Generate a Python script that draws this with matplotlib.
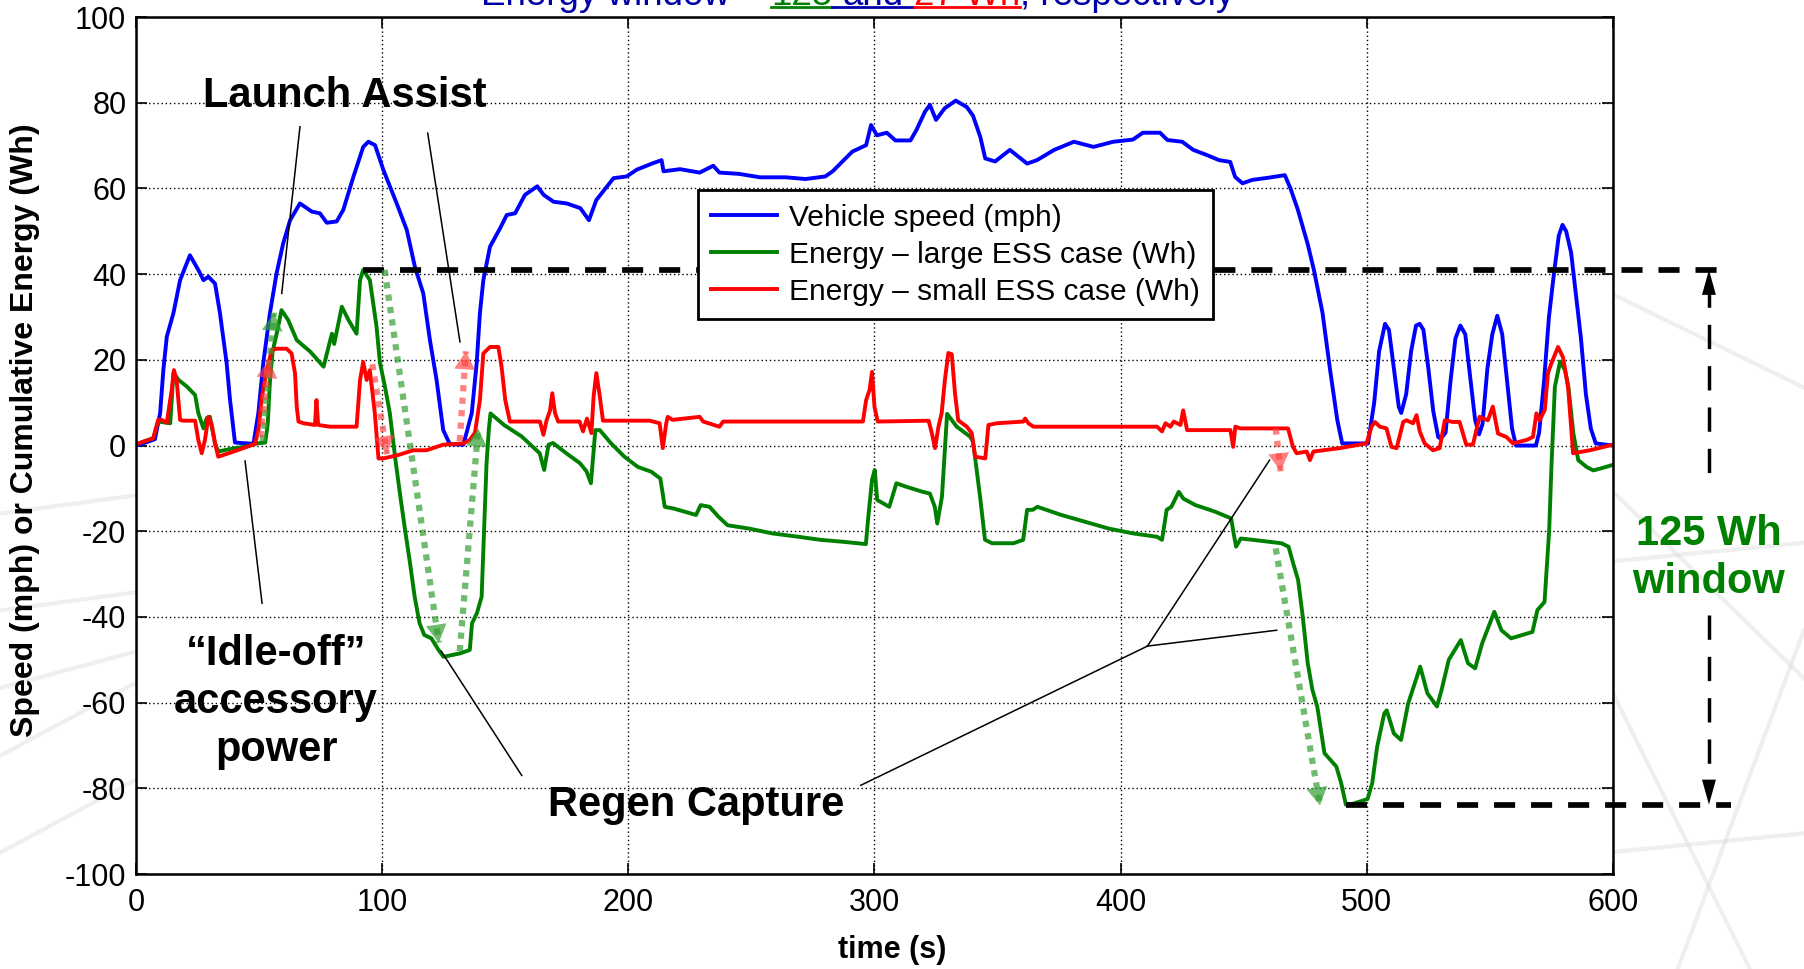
import matplotlib
matplotlib.use('Agg')
import matplotlib.pyplot as plt
from matplotlib.lines import Line2D
from matplotlib.transforms import IdentityTransform
import numpy as np

# ---- data ----
speed_t = [0, 2, 7.7, 9.8, 11.1, 12.5, 15.2, 17.9, 21.9, 25.3, 27.4, 29.4, 32.1, 34.1, 36.8, 38.2, 40.2,
           47.7, 49.7, 51.7, 54.4, 57.1, 59.8, 62.6, 66.6, 71.4, 74.7, 77.5, 81.5, 84.2, 88.3, 92.3, 94.4,
           97.1, 100.5, 105.9, 110, 113.3, 116.7, 119.4, 122.1, 124.8, 127.5, 133, 136.4, 138.4, 139.7,
           141.1, 143.8, 147.9, 150.6, 154, 158, 163, 165.6, 169.6, 175, 180.5, 184, 187, 194, 199.3,
           203.5, 210, 213.5, 214.3, 221, 229, 234.5, 237, 245, 253.5, 264, 272, 280, 283, 291, 296.6,
           298.6, 301, 305, 308.5, 314.6, 317, 320.5, 322.5, 325, 328.5, 333, 337.5, 340, 343, 345, 349,
           355, 362, 366, 373, 381, 389, 397, 405, 409, 416, 419, 425, 429.5, 435, 440, 444.5, 446.5,
           449.5, 453.5, 460, 466.7, 469, 472, 476, 478.5, 482, 485, 488, 490, 500.5, 503, 505, 507.4,
           509, 511, 513, 514, 516, 518, 520, 521.5, 523, 525, 527, 529, 530, 532, 534, 536, 538, 540,
           542, 544, 545.6, 547, 549, 551, 553, 555, 557, 559, 560.6, 568.7, 570, 572, 574, 576, 578,
           579.5, 581, 583, 585, 587, 589, 591, 593, 600]
speed_v = [0, 0.3, 1.5, 7.6, 17.6, 25.4, 30.9, 38.6, 44.4, 41, 38.6, 39.4, 37.8, 30.9, 19.3, 10.6, 0.7,
           0.4, 7.6, 19.3, 30.9, 40.2, 47.2, 52.6, 56.5, 54.6, 54.2, 52, 52.3, 55, 62.7, 69.7, 70.9,
           70.1, 64.3, 56.5, 50.3, 41.7, 35.5, 24.6, 15.3, 3.6, 0.3, 0.2, 7.6, 19.3, 30.9,
           38.6, 46.4, 50.7, 53.8, 54.2, 58.5, 60.5, 58.5, 56.9, 56.5, 55.4, 52.6, 57.3, 62.4, 62.8,
           64.4, 65.9, 66.6, 64, 64.5, 63.7, 65.3, 63.7, 63.4, 62.6, 62.6, 62.2, 62.8, 64, 68.6, 70.1,
           74.8, 72.4, 73, 71.2, 71.2, 73.6, 77.9, 79.5, 76, 78.7, 80.5, 79, 77, 72, 67, 66.3,
           69, 65.8, 66.6, 69, 70.9, 69.7, 70.9, 71.4, 73, 73, 71.3, 70.9, 69, 67.8, 66.6, 66.2, 62.7,
           61.2, 62, 62.5, 63.1, 60, 55, 47, 41, 31, 18, 6, 0.5, 0.5, 10, 22, 28.4,
           27, 18, 9, 7.6, 12, 22, 28, 28.4, 27, 18, 8, 2, 1.6, 3, 15, 25, 28, 26,
           16, 6, 2.6, 5, 18, 26, 30.3, 26, 15, 4, 0, 0, 3, 15, 30, 40, 49,
           51.5, 50, 45, 35, 25, 12, 4, 0.5, 0]

large_t = [0, 7, 9, 13.9, 15.2, 17.3, 20.6, 24, 25.3, 27.4, 28.7, 30, 32.1, 33.4, 38.2, 45, 49, 52.5,
           53.5, 54.4, 55.5, 57.1, 59.1, 61.8, 65.3, 70.8, 76.2, 78.9, 79.6, 80.5, 83.6, 86.3, 89.6, 91,
           92.3, 95, 97.7, 99.1, 101.1, 103.1, 105.4, 107.4, 109.3, 111.3, 113.2, 115.2, 117.1, 120,
           122.9, 124.9, 131.7, 135.6, 136.5, 138.5, 140.4, 141.4, 142.4, 143.3, 144, 149.5, 156.7, 164,
           165.8, 167.6, 169.4, 174.8, 180.3, 183, 184.8, 186.6, 188.4, 193, 198.4, 203.9, 209.3, 213,
           214.8, 218.4, 227.5, 229.4, 233, 236.6, 240.3, 249.3, 258.4, 269.2, 278, 288, 296.5, 297.5,
           299, 300.1, 301.1, 306, 308.9, 312.8, 319.6, 322.5, 324.5, 325.5, 327.4, 328.4, 329.5, 333.4,
           338.8, 340, 341, 342.9, 344.9, 347.8, 356.5, 360.4, 362, 364.3, 366.2, 375.9, 385.6, 395.3,
           405, 414.8, 416.8, 418.7, 420.6, 423.6, 425.5, 430.4, 438.2, 444.9, 445.9, 446.9, 448.8,
           453.6, 465.3, 468.2, 470.1, 472.1, 474, 476, 477.9, 479.9, 482.8, 487.6, 489.6, 491.5, 494.4,
           500.3, 502.2, 504.2, 507.1, 508.1, 511, 513.9, 516.8, 521.7, 524.6, 528.5, 530.4, 533.3,
           538.2, 541.1, 544, 546.9, 551.8, 554.7, 558.6, 567.3, 569.3, 572.2, 574.1, 575, 576.4, 578.5,
           580.5, 581.9, 583.9, 585.9, 589.3, 592, 594.7, 598.8, 600]
large_e = [0.3, 1.7, 5.6, 5.2, 16.9, 15.3, 13.8, 11.8, 7.6, 4, 6.4, 6.7, 0.5, -1.4, -0.8, -0.2, 0.5, 0.7,
           5, 15, 22, 26, 31.6, 29.3, 24.6, 21.9, 18.4, 24.6, 26.1, 23.7, 32.4, 29.3, 26.1, 38.6,
           41, 38.6, 27.8, 19.3, 13.8, 7.6, -3.4, -12, -19.7, -27.4, -35.3, -41.5, -44.2, -45,
           -47.7, -49.3, -48.5, -47.7, -41.5, -39.1, -35.3, -19.7, -4.2, 3.6, 7.5, 4.8, 2.1, -1.8,
           -5.7, 0.2, 0.6, -1.8, -4.1, -6, -8.8, 3.6, 3.6, 0.5, -2.6, -5, -6.1, -7.7,
           -14.3, -14.7, -16.2, -13.9, -14.3, -16.6, -18.6, -19.4, -20.5, -21.3, -22, -22.5, -23, -16.6,
           -8, -5.7, -12.7, -14.3, -8.8, -9.6, -10.8, -11.2, -14.3, -18.2, -12, -2.6, 7.4, 4.4,
           2.1, 1, -3.4, -12, -22, -22.8, -22.8, -22, -15, -15, -14.3, -16.2, -17.8, -19.4,
           -20.5, -21.3, -22, -15, -14.3, -10.8, -12.4, -13.9, -15.4, -17, -20.5, -23.6, -21.7,
           -22, -22.8, -23.6, -27.5, -31.4, -40, -50.8, -57, -61, -71.8, -74.9, -78.8, -83.8, -83.6,
           -82.5, -78.8, -70.3, -62.5, -61.8, -67.2, -68.7, -60.2, -51.6, -57.8, -60.9, -57, -50,
           -45.4, -50.8, -52, -46.1, -38.8, -43.1, -45, -43.5, -38.4, -36.5, -19.7, -5, 13.7, 19.6,
           17.6, 13.7, 2.9, -3.4, -5, -5.8, -5.4, -4.7, -4.5]

small_t = [0, 7, 9, 10.4, 12.5, 14.5, 15.4, 16.5, 17.9, 19.2, 24, 25.3, 26.7, 28, 29.4, 30.7, 32.1, 33.4,
           38.2, 43.6, 48.4, 49.7, 51.1, 53.1, 55.2, 57.1, 61.2, 63.2, 64.6, 65.3, 66, 68, 72.7, 73.3, 74,
           78.8, 89.6, 91, 92.3, 93.7, 95, 97, 98.5, 100.5, 106, 112.7, 118, 124.8, 133, 135.6, 137.7,
           139.7, 141.1, 143.8, 147.2, 148.5, 150, 151.9, 164.1, 165.5, 166.8, 168.2, 169.1, 170.2,
           171.5, 180.2, 181.6, 183.2, 185, 185.9, 187, 188.4, 189.7, 208.7, 212.7, 214, 215.4, 216,
           218, 229, 230.4, 237, 238.5, 295.3, 296.6, 298, 299, 300, 301.3, 322, 323.3, 324.6, 326,
           327.3, 328.6, 330, 331.4, 332.7, 334, 337.5, 339.5, 340.9, 345, 346.3, 349.7, 360.5, 361.2,
           362.5, 364.6, 414.8, 416.8, 418.2, 420.2, 421.6, 424.3, 425.4, 427, 444.6, 445.7, 446.6,
           448.7, 468, 470, 471.5, 475.6, 476.9, 478.3, 489, 499.9, 501.9, 503.3, 505.3, 508, 510,
           512.1, 514.8, 516.1, 518.8, 520.2, 521.5, 523.5, 526.9, 529.6, 531.7, 535, 537.7, 540.4,
           543.1, 545.8, 549.2, 551.2, 553.3, 556.7, 559.4, 564.9, 567.5, 568.9, 570.2, 572.3, 573.6,
           575, 577.7, 579.7, 581.8, 583.8, 590.6, 600]
small_e = [0.3, 1.7, 6, 6, 5.3, 13, 17.6, 15.3, 6, 5.8, 5.8, 1.3, -1.8, 1.3, 6.7, 5, 0.5, -2.6,
           -1.7, -0.6, 0.4, 3.6, 11.3, 17.6, 22.3, 22.6, 22.6, 21.5, 16.8, 9, 5.6, 5.2, 4.8, 10.6, 4.8,
           4.4, 4.4, 15.3, 19.5, 15.3, 17.6, 7.6, -3, -3, -2.3, -1.1, -1.1, 0.2, 0.5, 1.3, 3,
           10.6, 21.5, 23, 23, 18.4, 10.6, 5.6, 5.6, 2.5, 5.9, 8.2, 12.2, 7.6,
           5.6, 5.6, 3.3, 6.3, 2.9, 11.5, 16.9, 11.5, 5.8, 5.8, 5.2, -0.6, 5.2, 6.7,
           6, 6.7, 5.6, 4.4, 5.6, 5.6, 10.6, 13, 17.2, 9, 5.6, 5.8, 2.9, -0.6, 4.4,
           7.6, 15.3, 21.6, 21.3, 12.2, 5.9, 4.4, 2.9, -2.6, -3, 4.8, 5.2, 5.6, 6.3,
           5.2, 4.4, 4.4, 3.3, 5.2, 4.4, 5.6, 4.8, 8.2, 3.6, 3.6, -0.3, 4.4,
           4, 4, -0.3, -1.8, -1.4, -3.4, -1.4, -0.6, 0.5, 4.4, 5.5, 4.4, 4, -0.3,
           -0.6, 5.5, 5.9, 5.2, 7.1, 3.3, 0.5, -1.1, -0.6, 5.9, 5.5, 5.5, 0.2,
           0.2, 6.7, 5.9, 9.1, 2.8, 2, 0.5, 1.3, 2, 7.5, 5.9, 8.3, 16.9,
           19.2, 23, 20.6, 13.5, -1.8, -1.1, 0.2]

x_ticks = [0, 100, 200, 300, 400, 500, 600]
y_ticks = [-100, -80, -60, -40, -20, 0, 20, 40, 60, 80, 100]

plt.rcParams['font.family'] = ['Liberation Sans', 'DejaVu Sans']
plt.rcParams['axes.unicode_minus'] = False

fig = plt.figure(figsize=(18.04, 9.69), dpi=100)

# faint slide background streaks
for (x0, y0, x1, y1) in [(0, 0.37, 0.08, 0.39), (0, 0.29, 0.08, 0.33), (0, 0.22, 0.08, 0.30),
                         (0, 0.12, 0.08, 0.20), (0, 0.47, 0.08, 0.49),
                         (0.89, 0.70, 1.0, 0.60), (0.89, 0.50, 1.0, 0.30), (0.89, 0.42, 1.0, 0.44),
                         (0.89, 0.30, 0.97, 0.0), (0.89, 0.12, 1.0, 0.14), (0.93, 0.0, 1.0, 0.35)]:
    fig.add_artist(Line2D([x0, x1], [y0, y1], transform=fig.transFigure,
                          color='#d8d8d8', lw=3, alpha=0.4, zorder=-2))

ax = fig.add_axes([0.0754, 0.098, 0.8187, 0.8844])

ax.plot(speed_t, speed_v, color='#0000ff', lw=2.8, label='Vehicle speed (mph)')
ax.plot(large_t, large_e, color='#008000', lw=2.8, label='Energy – large ESS case (Wh)')
ax.plot(small_t, small_e, color='#ff0000', lw=2.8, label='Energy – small ESS case (Wh)')

ax.set_xlim(0, 600)
ax.set_ylim(-100, 100)
ax.set_xticks(x_ticks)
ax.set_yticks(y_ticks)
ax.grid(True, color='k', linestyle=(0, (1, 2)), lw=1.0)
ax.tick_params(direction='in', top=True, right=True, length=8, width=1.2, labelsize=22, pad=7)
ax.tick_params(axis='x', pad=10)
for sp in ax.spines.values():
    sp.set_linewidth(1.8)

ax.set_xlabel('time (s)', fontsize=22, fontweight='bold')
ax.xaxis.label.set_va('center')
ax.xaxis.set_label_coords(0.512, -0.089)
ax.set_ylabel('Speed (mph) or Cumulative Energy (Wh)', fontsize=23, fontweight='bold')
ax.yaxis.label.set_va('center')
ax.yaxis.set_label_coords(-0.075, 0.518)

leg = ax.legend(loc='upper left', bbox_to_anchor=(0.3805, 0.798), borderaxespad=0, fontsize=21.5,
                frameon=True, fancybox=False, edgecolor='k', framealpha=1, handlelength=2.2,
                handletextpad=0.4, labelspacing=0.3, borderpad=0.45)
leg.get_frame().set_linewidth(2)
leg.set_zorder(10)

# energy window lines
e_top = max(large_e)
e_bot = min(large_e)
t_top = large_t[large_e.index(e_top)]
t_bot = large_t[large_e.index(e_bot)]
ax.plot([t_top, 646], [e_top, e_top], color='k', lw=4.1, dashes=(3.7, 2.8), clip_on=False, zorder=4)
ax.plot([t_bot, 648], [e_bot, e_bot], color='k', lw=4.1, dashes=(3.7, 2.8), clip_on=False, zorder=4)

x_win = 639
ax.plot([x_win, x_win], [e_top - 3, -8.7], color='k', lw=2.5, dashes=(7, 4.9), clip_on=False)
ax.plot([x_win, x_win], [-39.6, e_bot + 3], color='k', lw=2.5, dashes=(7, 4.9), clip_on=False)
for tip, back in [(e_top, e_top - 6), (e_bot, e_bot + 6)]:
    ax.annotate('', xy=(x_win, tip), xytext=(x_win, back), annotation_clip=False,
                arrowprops=dict(arrowstyle='-|>,head_length=1.8,head_width=0.5', color='k',
                                lw=0, shrinkA=0, shrinkB=0))
ax.text(x_win, -26.3, '125 Wh\nwindow', color='#008000', fontsize=30, fontweight='bold',
        ha='center', va='center', linespacing=1.25, clip_on=False)


def dotted_arrow(x0, y0, x1, y1, color, alpha):
    ax.plot([x0, x1], [y0, y1], color=color, alpha=alpha, lw=4.5, linestyle=(0, (1, 1)),
            dash_capstyle='butt', zorder=6)
    ax.annotate('', xy=(x1, y1), xytext=(x1 - 0.1 * (x1 - x0), y1 - 0.1 * (y1 - y0)),
                arrowprops=dict(arrowstyle='-|>,head_length=1.3,head_width=0.75', color=color,
                                alpha=alpha, lw=0, shrinkA=0, shrinkB=0), zorder=6)


g_col, r_col = (0.2, 0.62, 0.2), (1.0, 0.25, 0.25)
dotted_arrow(101, 41, 123, -46, g_col, 0.7)
dotted_arrow(131.5, -48, 139, 4, g_col, 0.7)
dotted_arrow(51.5, 1, 56, 31, g_col, 0.7)
dotted_arrow(463, -24, 481, -84, g_col, 0.7)
dotted_arrow(50.5, 2, 54, 20, r_col, 0.65)
dotted_arrow(96, 19, 102, -2, r_col, 0.65)
dotted_arrow(131.5, 1, 134, 22, r_col, 0.65)
dotted_arrow(463, 4, 465, -6, r_col, 0.65)

# callouts
txt = dict(fontsize=30, fontweight='bold', ha='center', va='center', color='k')
ax.text(85, 81.6, 'Launch Assist', **txt)
ax.plot([66.6, 59.2], [74.4, 35.5], color='k', lw=1.1)
ax.plot([118.5, 131.6], [72.9, 24.2], color='k', lw=1.1)

ax.text(56.9, -59.9, '\u201cIdle-off\u201d\naccessory\npower', linespacing=1.25, **txt)
ax.plot([44.3, 51.2], [-3.6, -36.8], color='k', lw=1.1)

ax.text(227.5, -83.9, 'Regen Capture', **txt)
ax.plot([124, 156.7], [-48, -77], color='k', lw=1.1)
ax.plot([294.4, 410.9], [-79.3, -46.8], color='k', lw=1.1)
ax.plot([410.9, 463.4], [-46.8, -43.1], color='k', lw=1.1)
ax.plot([410.9, 460.5], [-46.8, -3.4], color='k', lw=1.1)

# clipped title with coloured underlines
fig.canvas.draw()
rend = fig.canvas.get_renderer()
title_fs = 26.5
blue_t = '#0000a8'
parts = [('Energy window \u2013 ', blue_t, None), ('125', '#008000', '#008000'),
         (' and ', blue_t, blue_t), ('27 Wh', '#ff0000', '#ff0000'), (', respectively', blue_t, None)]
full = ''.join(p[0] for p in parts)


def adv(s):
    a = fig.text(0, 0, s + '|', fontsize=title_fs, transform=IdentityTransform())
    b = fig.text(0, 0, '|', fontsize=title_fs, transform=IdentityTransform())
    w = a.get_window_extent(rend).width - b.get_window_extent(rend).width
    a.remove()
    b.remove()
    return w


H = 969
x0 = 857.5 - adv(full) / 2
y_base = H - 5
pos = 0
for s, c, ul in parts:
    start = adv(full[:pos]) if pos else 0
    end = adv(full[:pos + len(s)])
    lead = len(s) - len(s.lstrip())
    glyph_start = adv(full[:pos + lead]) if pos + lead else 0
    fig.text(x0 + glyph_start, y_base, s.strip(), fontsize=title_fs, color=c,
             transform=IdentityTransform(), va='baseline', ha='left')
    if ul:
        fig.add_artist(Line2D([x0 + start, x0 + end], [H - 7, H - 7], transform=IdentityTransform(),
                              color=ul, lw=2))
    pos += len(s)

fig.savefig('out.png', dpi=100)
